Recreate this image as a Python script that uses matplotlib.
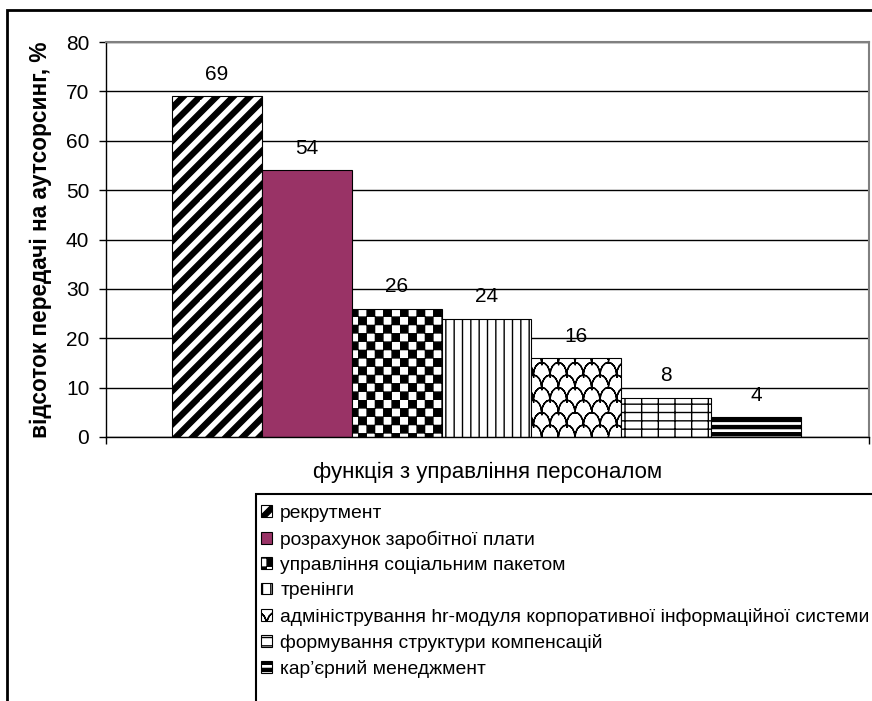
import numpy as np
import matplotlib
matplotlib.use('Agg')
import matplotlib.pyplot as plt
import matplotlib.hatch as mhatch
from matplotlib.path import Path
from matplotlib.patches import Rectangle

# data
functions = ['рекрутмент',
             'розрахунок заробітної плати',
             'управління соціальним пакетом',
             'тренінги',
             'адміністрування hr-модуля корпоративної інформаційної системи',
             'формування структури компенсацій',
             'кар’єрний менеджмент']
shares = [69, 54, 26, 24, 16, 8, 4]
yticks = [0, 10, 20, 30, 40, 50, 60, 70, 80]

# excel-like fill patterns, one per bar
hatches = ['/', None, '.', '||', 'o', '|--', '*']
colors = ['white', '#993366', 'white', 'white', 'white', 'white', 'white']


# --- a few extra hatch patterns (excel has fills matplotlib lacks) ---
class ThickStripes(mhatch.HatchPatternBase):
    # wide filled diagonal bands, used for '/'
    def __init__(self, hatch, density):
        self.num = int(hatch.count('/') * density)
        self.num_vertices = 2 * self.num * 5

    def set_vertices_and_codes(self, vertices, codes):
        w = 0.07
        for i, k in enumerate(range(-self.num, self.num)):
            c = k / self.num
            vertices[i*5:i*5+5] = [(0, c), (1, 1 + c), (1, 1 + c + w), (0, c + w), (0, c)]
            codes[i*5:i*5+5] = [Path.MOVETO, Path.LINETO, Path.LINETO, Path.LINETO, Path.CLOSEPOLY]


class Checker(mhatch.HatchPatternBase):
    # checkerboard, used for '.'
    def __init__(self, hatch, density):
        self.num = int(hatch.count('.') * density) * 2
        self.num_vertices = (self.num * self.num // 2) * 5

    def set_vertices_and_codes(self, vertices, codes):
        s = 1.0 / self.num
        d = 0.004
        i = 0
        for r in range(self.num):
            for c in range(self.num):
                if (r + c) % 2:
                    continue
                x, y = c * s, r * s
                vertices[i:i+5] = [(x+d, y+d), (x+s-d, y+d), (x+s-d, y+s-d), (x+d, y+s-d), (x+d, y+d)]
                codes[i:i+5] = [Path.MOVETO, Path.LINETO, Path.LINETO, Path.LINETO, Path.CLOSEPOLY]
                i += 5


class Scales(mhatch.HatchPatternBase):
    # fish scale arcs, used for 'o'
    def __init__(self, hatch, density):
        n = hatch.count('o')
        self.nx = 6 * n
        self.ny = 8 * n
        self.m = 9
        self.num_vertices = (self.ny + 2) * (self.nx + 2) * (2 * self.m - 1) if n else 0

    def set_vertices_and_codes(self, vertices, codes):
        w = 1.0 / self.nx
        h = 1.0 / self.ny
        t = np.linspace(0, np.pi, self.m)
        ax_ = (1 - np.cos(t)) / 2
        ay_ = np.sin(t)
        k = 2 * self.m - 1
        i = 0
        for r in range(-1, self.ny + 1):
            off = (r % 2) * w / 2
            for c in range(-1, self.nx + 1):
                pts = np.column_stack([c * w + off + ax_ * w, r * h + ay_ * h])
                # out and back, so the fill adds nothing
                vertices[i:i+k] = np.concatenate([pts, pts[-2::-1]])
                codes[i] = Path.MOVETO
                codes[i+1:i+k] = Path.LINETO
                i += k


class ThickBands(mhatch.HatchPatternBase):
    # dark horizontal bands, used for '*'
    def __init__(self, hatch, density):
        self.num = 14 * hatch.count('*')
        self.num_vertices = self.num * 5

    def set_vertices_and_codes(self, vertices, codes):
        w = 0.03
        for i in range(self.num):
            y = i / self.num
            vertices[i*5:i*5+5] = [(0, y), (1, y), (1, y + w), (0, y + w), (0, y)]
            codes[i*5:i*5+5] = [Path.MOVETO, Path.LINETO, Path.LINETO, Path.LINETO, Path.CLOSEPOLY]


mhatch._hatch_types = [mhatch.HorizontalHatch, mhatch.VerticalHatch, ThickStripes,
                       mhatch.SouthEastHatch, Checker, Scales, ThickBands]

plt.rcParams['font.family'] = 'Liberation Sans'
plt.rcParams['hatch.linewidth'] = 1.0

W, H = 872, 701
fig = plt.figure(figsize=(W / 100, H / 100), dpi=100)
fig.subplots_adjust(left=106 / W, right=869 / W, bottom=1 - 437 / H, top=1 - 42 / H)
ax = fig.add_subplot(111)

x = np.arange(len(shares))
for i in range(len(shares)):
    bc = ax.bar(x[i], shares[i], width=1.0, color=colors[i], edgecolor='black',
                linewidth=0.8, hatch=hatches[i], label=functions[i], zorder=2)
    ax.bar_label(bc, padding=9, fontsize=15)

xmin, xmax = -1.233, 7.256
ax.set_xlim(xmin, xmax)
ax.set_ylim(0, 80)
ax.set_yticks(yticks)
ax.set_xticks([xmin, xmax])
ax.set_xticklabels(['', ''])
ax.tick_params(axis='y', direction='out', length=5, width=1, pad=7, labelsize=15)
ax.tick_params(axis='x', direction='out', length=5, width=1)

ax.yaxis.grid(True, color='black', linewidth=1.0)
ax.set_axisbelow(True)
for s in ['left', 'bottom']:
    ax.spines[s].set_color('black')
    ax.spines[s].set_linewidth(1.0)
for s in ['top', 'right']:
    ax.spines[s].set_color('#808080')
    ax.spines[s].set_linewidth(1.5)

ax.set_ylabel('відсоток передачі на аутсорсинг, %', fontsize=16.3, fontweight='bold')
ax.yaxis.set_label_coords(-0.071, 0.5)
ax.set_xlabel('функція з управління персоналом', fontsize=16)
ax.xaxis.set_label_coords(0.5, -0.063)

leg = ax.legend(loc='upper left', bbox_to_anchor=(261 / W, 1 - 505 / H),
                bbox_transform=fig.transFigure, frameon=False, fontsize=13.9,
                handlelength=0.55, handleheight=0.55, handletextpad=0.45,
                labelspacing=0.43, borderpad=0, borderaxespad=0)

# legend frame and the outer chart frame run off the picture edge
fig.add_artist(Rectangle((256 / W, -0.1), 1, 1 - 494 / H + 0.1, transform=fig.transFigure,
                         fill=False, edgecolor='black', linewidth=1.5))
fig.add_artist(Rectangle((7 / W, -0.1), 1.2, 1 - 10 / H + 0.1, transform=fig.transFigure,
                         fill=False, edgecolor='black', linewidth=2))

fig.savefig('out.png', dpi=100)
